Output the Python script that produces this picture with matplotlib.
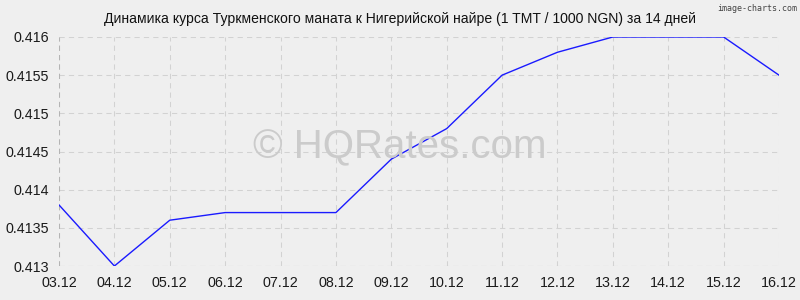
import matplotlib
matplotlib.use("Agg")
import matplotlib.pyplot as plt
from matplotlib.ticker import FuncFormatter

plt.rcParams['font.family'] = ['Liberation Sans', 'DejaVu Sans']

dates = ["03.12", "04.12", "05.12", "06.12", "07.12", "08.12", "09.12",
         "10.12", "11.12", "12.12", "13.12", "14.12", "15.12", "16.12"]
rates = [0.4138, 0.4130, 0.4136, 0.4137, 0.4137, 0.4137, 0.4144,
         0.4148, 0.4155, 0.4158, 0.4160, 0.4160, 0.4160, 0.4155]
y_ticks = [0.413, 0.4135, 0.414, 0.4145, 0.415, 0.4155, 0.416]

bg = "#efefef"
fig = plt.figure(figsize=(8, 3), dpi=100, facecolor=bg)
ax = fig.add_axes([0.07375, 0.1133, 0.9, 0.7634], facecolor=bg)

# watermark behind the grid
fig.text(0.5, 0.51, "© HQRates.com", ha="center", va="center",
         fontsize=29, color="#cbcbcb", zorder=0)
ax.patch.set_alpha(0)

x = range(len(dates))
ax.plot(x, rates, color="#1a1aff", linewidth=1, zorder=3)

ax.set_xlim(0, len(dates) - 1)
ax.set_ylim(0.413, 0.416)
ax.set_xticks(list(x))
ax.set_xticklabels(dates)
ax.set_yticks(y_ticks)
ax.yaxis.set_major_formatter(FuncFormatter(lambda v, p: "%g" % v))

ax.grid(True, color="#d2d2d2", linestyle=(0, (5, 4)), linewidth=0.75)
for s in ax.spines.values():
    s.set_visible(False)
ax.axvline(0, color="#b4b4b4", linestyle=(0, (5, 4)), linewidth=0.75)
ax.axhline(0.413, color="#a8a8a8", linestyle=(0, (5, 4)), linewidth=0.75)
ax.tick_params(length=0, labelsize=10.3, colors="#1a1a1a")
ax.tick_params(axis="x", pad=7)
ax.tick_params(axis="y", pad=7)

fig.text(0.5, 0.937, "Динамика курса Туркменского маната к Нигерийской найре (1 TMT / 1000 NGN) за 14 дней",
         ha="center", va="center", fontsize=10.1, color="#111111")
fig.text(0.996, 0.972, "image-charts.com", ha="right", va="center",
         fontsize=6, color="#444444", family="DejaVu Sans Mono")

fig.savefig("out.png", dpi=100, facecolor=bg)
